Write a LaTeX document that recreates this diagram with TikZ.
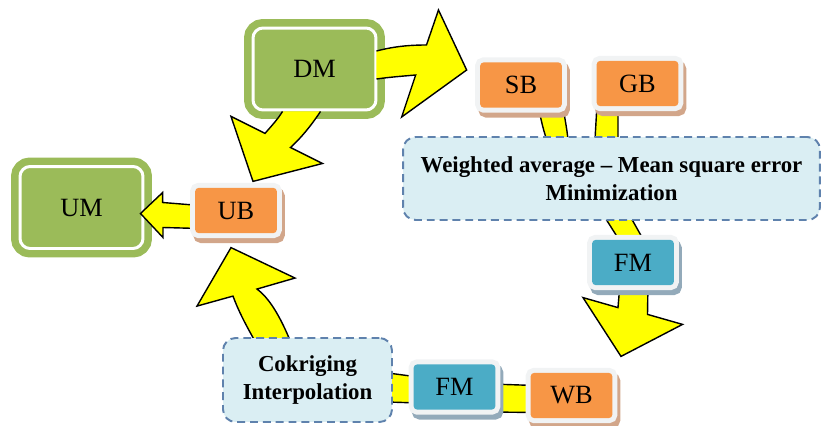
\documentclass[tikz,border=0pt]{standalone}
\usepackage{fontspec}
\setmainfont{Liberation Serif}
\usepackage{tikz}
\usetikzlibrary{calc}
\definecolor{LeafGreen}{HTML}{9BBB59}
\definecolor{CoralOrange}{HTML}{F79646}
\definecolor{SeaBlue}{HTML}{4BACC6}
\definecolor{RimGray}{HTML}{F1F3F4}
\definecolor{CoralShade}{HTML}{D2A68A}
\definecolor{SeaShade}{HTML}{93AABA}
\definecolor{MistBlue}{HTML}{DAEEF3}
\definecolor{DashBlue}{HTML}{5F82AD}
\definecolor{FlowYellow}{HTML}{FFFF00}
\pgfdeclarelayer{frames}
\pgfdeclarelayer{flows}
\pgfsetlayers{frames,flows,main}
\tikzset{
  greenbox/.style={fill=LeafGreen,draw=white,line width=1.7pt,rounded corners=0.2cm,
              minimum width=2.46cm,minimum height=1.64cm,inner sep=0pt,font=\fontsize{15}{18}\selectfont,
              preaction={draw=LeafGreen,line width=0.36cm}},
  orangebox/.style={fill=CoralOrange,rounded corners=0.08cm,minimum width=1.64cm,minimum height=0.91cm,
              inner sep=0pt,font=\fontsize{15}{18}\selectfont,
              preaction={draw=CoralShade,fill=CoralShade,line width=0.2cm,transform canvas={shift={(0.06cm,-0.1cm)}}},
              preaction={draw=RimGray,line width=0.2cm}},
  bluebox/.style={fill=SeaBlue,rounded corners=0.08cm,minimum width=1.64cm,minimum height=0.91cm,
              inner sep=0pt,font=\fontsize{15}{18}\selectfont,
              preaction={draw=SeaShade,fill=SeaShade,line width=0.2cm,transform canvas={shift={(0.06cm,-0.1cm)}}},
              preaction={draw=RimGray,line width=0.2cm}},
  dashbox/.style={fill=MistBlue,draw=DashBlue,line width=1.1pt,dash pattern=on 4.5pt off 2.8pt,
              rounded corners=0.25cm,align=center,inner sep=0pt,font=\bfseries\fontsize{13}{16}\selectfont},
  fatflow/.style={fill=FlowYellow,draw=black,line width=0.8pt,line join=miter}
}
\begin{document}
\begin{tikzpicture}[x=0.02cm,y=-0.02cm]
  \useasboundingbox (0,0) rectangle (822,426);
  \begin{pgfonlayer}{frames}
    \node[greenbox] (um) at (81.5,207.5) {UM};
    \node[greenbox] (dm) at (314.5,69) {DM};
  \end{pgfonlayer}
  \node[orangebox] (ub) at (236,210.5) {UB};
  \node[orangebox] (sb) at (521,85) {SB};
  \node[orangebox] (gb) at (637.5,83.5) {GB};
  \node[bluebox] (fmr) at (633,262.5) {FM};
  \node[orangebox] (wb) at (571.5,395.5) {WB};
  \node[bluebox] (fmb) at (454.5,387) {FM};
  \node[dashbox,minimum width=8.34cm,minimum height=1.66cm] (wavg) at (611.5,178.5)
    {Weighted average \textendash{} Mean square error\\Minimization};
  \node[dashbox,minimum width=3.38cm,minimum height=1.68cm] (cok) at (307.5,380)
    {Cokriging\\Interpolation};

  % yellow flow arrows, under the boxes
  \begin{pgfonlayer}{flows}
  \filldraw[fatflow] ([shift={(-1,-18)}]dm.east) .. controls +(19,-5) and +(-15,0) .. ++(50,-6)
    -- ++(12,-35) -- ([shift={(-13,-15)}]sb.west) -- ++(-65,47) -- ++(14,-42)
    .. controls +(-11,1) and +(14,-2) .. ([shift={(-1,10)}]dm.east);
  \filldraw[fatflow] ([shift={(6,0)}]dm.south) .. controls +(-10,15) and +(10,-9) .. ++(-30,36)
    -- ++(32,16) -- ([shift={(17,-6)}]ub.north) -- ++(-22,-65) -- ++(34,17)
    .. controls +(7,-8) and +(-5,8) .. ([shift={(-32,0)}]dm.south);
  \filldraw[fatflow] ([shift={(5,-5)}]ub.west) -- ++(-37,-3) -- ++(0,-10)
    -- ([shift={(-4,6)}]um.east) -- ++(22.5,24) -- ++(0,-10) -- ([shift={(5,18)}]ub.west);
  \filldraw[fatflow] ([shift={(-16,7)}]cok.north) .. controls +(-12,-30) and +(11,8) .. ++(-34.5,-55)
    -- ++(38,-11) -- ([shift={(-5,14)}]ub.south) -- ++(-34,58.5) -- ++(36,-10)
    .. controls +(7,19) and +(-7,-13) .. ([shift={(-51,7)}]cok.north);
  \filldraw[fatflow] ([shift={(-13,-2)}]fmr.south) -- ++(-2,24) -- ++(-35,-10)
    -- ([shift={(49.5,-16)}]wb.north) -- ++(61.5,-32) -- ++(-35,-10) -- ([shift={(15,-2)}]fmr.south);
  \filldraw[fatflow] ([shift={(5,-10)}]fmb.west) -- ([shift={(-5,-7)}]cok.east)
    -- ([shift={(-5,22)}]cok.east) -- ([shift={(5,16)}]fmb.west) -- cycle;
  \filldraw[fatflow] ([shift={(5,-10)}]wb.west) -- ([shift={(-5,-3)}]fmb.east)
    -- ([shift={(-5,25)}]fmb.east) -- ([shift={(5,17)}]wb.west) -- cycle;
  \filldraw[fatflow] ([shift={(17,-3)}]sb.south) .. controls +(3,15) and +(-4,-10) .. ++(10,38)
    -- ([shift={(-7.5,-5)}]wavg.south) -- ([shift={(-11,5)}]fmr.north)
    -- ([shift={(13,5)}]fmr.north) -- ([shift={(18.5,-5)}]wavg.south)
    -- ([shift={(-19.5,33)}]gb.south) -- ([shift={(-19.5,-2)}]gb.south)
    -- ([shift={(-40.5,-2)}]gb.south) -- ++(-2,35) -- ([shift={(47,32)}]sb.south)
    .. controls +(-1,-12) and +(1,10) .. ([shift={(42,-3)}]sb.south) -- cycle;
  \end{pgfonlayer}
\end{tikzpicture}
\end{document}
